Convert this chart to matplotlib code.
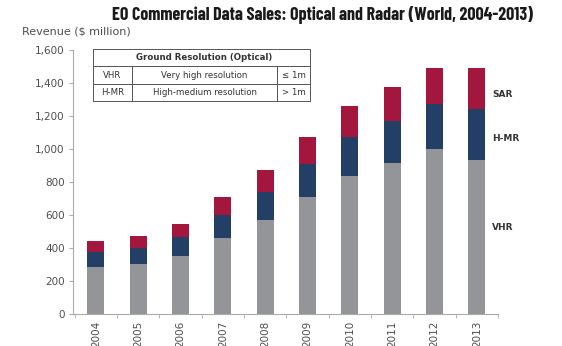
import matplotlib
matplotlib.use("Agg")
import matplotlib.pyplot as plt
import numpy as np
from matplotlib import font_manager

# data
years = ["2004", "2005", "2006", "2007", "2008", "2009", "2010", "2011", "2012", "2013"]
vhr = [285, 303, 352, 460, 570, 709, 836, 917, 1000, 933]
hmr = [91, 97, 115, 140, 169, 200, 237, 253, 273, 309]
sar = [66, 73, 78, 109, 134, 164, 189, 204, 218, 249]

table_rows = [
    ["", "Ground Resolution (Optical)", ""],
    ["VHR", "Very high resolution", "\u2264 1m"],
    ["H-MR", "High-medium resolution", "> 1m"],
]

GRAY = "#939598"
NAVY = "#243f66"
RED = "#a3173f"
TXT = "#4d4d4d"

# condensed bold title font if there is one, else plain DejaVu at a smaller size
names = {f.name for f in font_manager.fontManager.ttflist}
title_font, title_size = "DejaVu Sans", 9.0
for fam, sz in [("Barlow Condensed", 13.0), ("Asap Condensed", 11.5), ("Archivo Narrow", 13.0)]:
    if fam in names:
        title_font, title_size = fam, sz
        break

fig = plt.figure(figsize=(5.62, 3.46), dpi=100)
ax = fig.add_axes([73 / 562, 1 - 314 / 346, 425 / 562, 264 / 346])

x = np.arange(len(years))
w = 0.4
vhr_a = np.array(vhr)
hmr_a = np.array(hmr)
sar_a = np.array(sar)
ax.bar(x, vhr_a, w, color=GRAY, linewidth=0)
ax.bar(x, hmr_a, w, bottom=vhr_a, color=NAVY, linewidth=0)
ax.bar(x, sar_a, w, bottom=vhr_a + hmr_a, color=RED, linewidth=0)

ax.set_xlim(-0.54, 9.5)
ax.set_ylim(0, 1600)
ax.set_yticks(range(0, 1601, 200))
ax.set_yticklabels([f"{v:,}" for v in range(0, 1601, 200)])
ax.set_xticks(x)
ax.set_xticklabels(years, rotation=90)
ax.set_xticks(np.arange(-0.5, 10, 1), minor=True)
ax.tick_params(axis="x", which="major", length=0, pad=5, labelsize=7.5, colors=TXT)
ax.tick_params(axis="x", which="minor", length=3, color="#aaaaaa")
ax.tick_params(axis="y", length=3, color="#aaaaaa", labelsize=7.5, labelcolor=TXT, pad=3)
for s in ["top", "right"]:
    ax.spines[s].set_visible(False)
for s in ["left", "bottom"]:
    ax.spines[s].set_color("#aaaaaa")
    ax.spines[s].set_linewidth(0.8)

# series labels on the right
for lab, yv in [("SAR", 1333), ("H-MR", 1061), ("VHR", 527)]:
    ax.text(9.36, yv, lab, fontsize=6.5, fontweight="bold", color="#333333",
            va="center", ha="left", clip_on=False)

fig.text(322 / 562, 1 - 15 / 346, "EO Commercial Data Sales: Optical and Radar (World, 2004-2013)",
         ha="center", va="center", fontsize=title_size, fontweight="bold",
         family=title_font, color="#1a1a1a")
fig.text(22 / 562, 1 - 32 / 346, "Revenue ($ million)", ha="left", va="center",
         fontsize=8, color=TXT)

# resolution table
tb = ax.table(cellText=table_rows, colWidths=[0.18, 0.668, 0.152], cellLoc="center",
              bbox=[20 / 425, (314 - 101) / 264, 217 / 425, 52 / 264])
tb.auto_set_font_size(False)
for (r, c), cell in tb.get_celld().items():
    cell.set_edgecolor("#555555")
    cell.set_linewidth(0.7)
    cell.set_facecolor("white")
    cell.get_text().set_fontsize(6.2)
    cell.get_text().set_color("#333333")
    if r == 0:
        cell.visible_edges = {0: "BTL", 1: "BT", 2: "BTR"}[c]
        cell.get_text().set_fontweight("bold")

fig.savefig("out.png", dpi=100)
